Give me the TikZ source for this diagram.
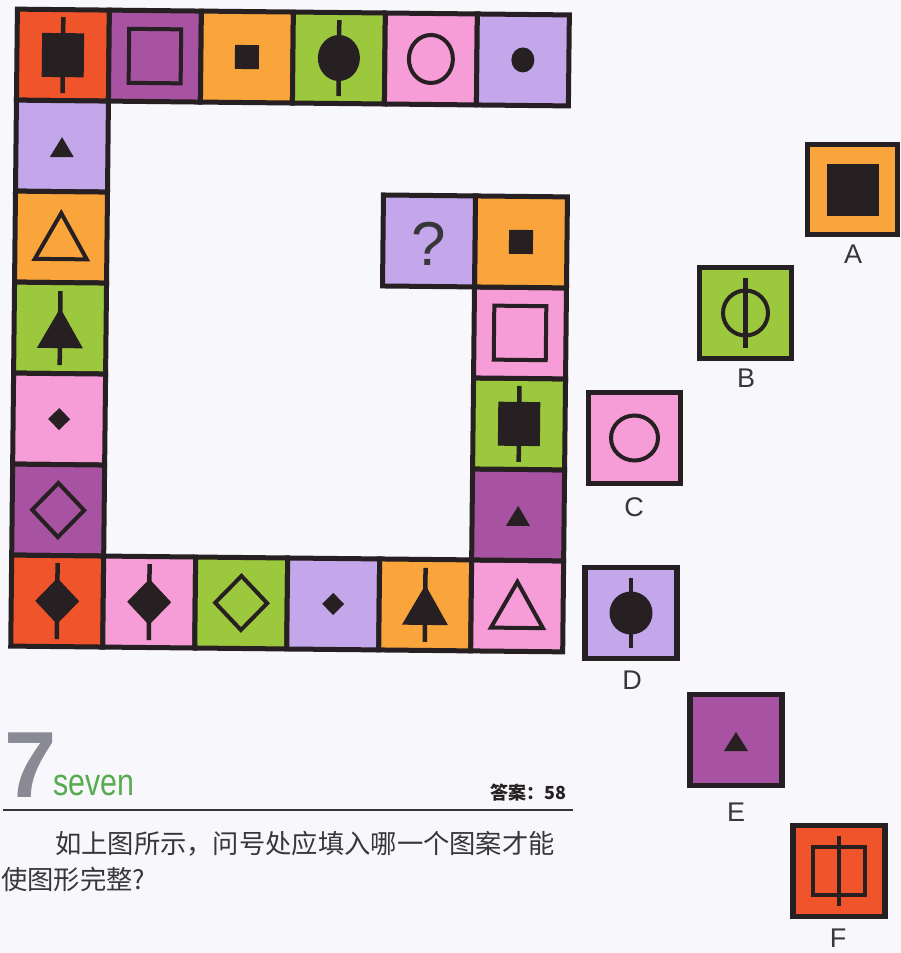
\documentclass[tikz,border=0pt]{standalone}
\usepackage{fontspec}
\setmainfont{Liberation Sans}
\newfontfamily\cjk{Noto Sans CJK SC}
\usepackage{xcolor}
\usepackage{tikz}
\definecolor{ink}{RGB}{38,32,34}
\definecolor{paper}{RGB}{248,248,252}
\definecolor{tred}{RGB}{240,84,42}
\definecolor{tpurple}{RGB}{168,82,162}
\definecolor{torange}{RGB}{250,164,60}
\definecolor{tgreen}{RGB}{156,200,62}
\definecolor{tpink}{RGB}{246,156,214}
\definecolor{tlav}{RGB}{196,166,234}
\definecolor{numgray}{RGB}{138,138,148}
\definecolor{wordgreen}{RGB}{88,172,80}
\definecolor{body}{RGB}{55,55,58}

\begin{document}
\begin{tikzpicture}[x=1pt, y=-1pt,
		tilebox/.style={draw=ink, line width=5pt},
		blob/.style={fill=ink},
		ring/.style={draw=ink, line width=4pt},
		stem/.style={draw=ink, line width=4.5pt},
		choice/.style={font=\fontsize{27}{30}\selectfont, text=body, inner sep=0pt}]
				\fill[paper] (0,0) rectangle (901,953);
				\useasboundingbox (0,0) rectangle (901,953);
				\begin{scope}[rotate around={-0.6:(290,335)}]
				% top row
				\filldraw[tilebox, fill=tred, shift={(60,57.5)}] (-46,-45.5) rectangle (46,45.5);
				\fill[blob, shift={(60,57.5)}] (-21,-22) rectangle (21,22);
				\draw[stem, shift={(60,57.5)}] (0,-38) -- (0,38);
				\filldraw[tilebox, fill=tpurple, shift={(152,57.5)}] (-46,-45.5) rectangle (46,45.5);
				\draw[ring, shift={(152,57.5)}] (-26,-27) rectangle (26,27);
				\filldraw[tilebox, fill=torange, shift={(244,57.5)}] (-46,-45.5) rectangle (46,45.5);
				\fill[blob, shift={(244,57.5)}] (-12,-12) rectangle (12,12);
				\filldraw[tilebox, fill=tgreen, shift={(336,57.5)}] (-46,-45.5) rectangle (46,45.5);
				\fill[blob, shift={(336,57.5)}] (0,0) ellipse (21 and 23);
				\draw[stem, shift={(336,57.5)}] (0,-38) -- (0,38);
				\filldraw[tilebox, fill=tpink, shift={(428,57.5)}] (-46,-45.5) rectangle (46,45.5);
				\draw[ring, shift={(428,57.5)}] (0,0) ellipse (22 and 24);
				\filldraw[tilebox, fill=tlav, shift={(520,57.5)}] (-46,-45.5) rectangle (46,45.5);
				\fill[blob, shift={(520,57.5)}] (0,0) ellipse (11.5 and 12.5);
				% left column
				\filldraw[tilebox, fill=tlav, shift={(60,148.5)}] (-46,-45.5) rectangle (46,45.5);
				\fill[blob, shift={(60,148.5)}] (-12,11) -- (0,-9) -- (12,11) -- cycle;
				\filldraw[tilebox, fill=torange, shift={(60,239.5)}] (-46,-45.5) rectangle (46,45.5);
				\draw[ring, shift={(60,239.5)}] (-26,22) -- (0,-24) -- (26,22) -- cycle;
				\filldraw[tilebox, fill=tgreen, shift={(60,330.5)}] (-46,-45.5) rectangle (46,45.5);
				\fill[blob, shift={(60,330.5)}] (-23,20) -- (0,-20) -- (23,20) -- cycle;
				\draw[stem, shift={(60,330.5)}] (0,-37) -- (0,37);
				\filldraw[tilebox, fill=tpink, shift={(60,421.5)}] (-46,-45.5) rectangle (46,45.5);
				\fill[blob, shift={(60,421.5)}] (-11,0) -- (0,-11) -- (11,0) -- (0,11) -- cycle;
				\filldraw[tilebox, fill=tpurple, shift={(60,512.5)}] (-46,-45.5) rectangle (46,45.5);
				\draw[ring, shift={(60,512.5)}] (-26,0) -- (0,-27) -- (26,0) -- (0,27) -- cycle;
				% bottom row
				\filldraw[tilebox, fill=tred, shift={(60,603.5)}] (-46,-45.5) rectangle (46,45.5);
				\fill[blob, shift={(60,603.5)}] (-22,0) -- (0,-23) -- (22,0) -- (0,23) -- cycle;
				\draw[stem, shift={(60,603.5)}] (0,-38) -- (0,38);
				\filldraw[tilebox, fill=tpink, shift={(152,603.5)}] (-46,-45.5) rectangle (46,45.5);
				\fill[blob, shift={(152,603.5)}] (-22,0) -- (0,-23) -- (22,0) -- (0,23) -- cycle;
				\draw[stem, shift={(152,603.5)}] (0,-38) -- (0,38);
				\filldraw[tilebox, fill=tgreen, shift={(244,603.5)}] (-46,-45.5) rectangle (46,45.5);
				\draw[ring, shift={(244,603.5)}] (-26,0) -- (0,-27) -- (26,0) -- (0,27) -- cycle;
				\filldraw[tilebox, fill=tlav, shift={(336,603.5)}] (-46,-45.5) rectangle (46,45.5);
				\fill[blob, shift={(336,603.5)}] (-11,0) -- (0,-11) -- (11,0) -- (0,11) -- cycle;
				\filldraw[tilebox, fill=torange, shift={(428,603.5)}] (-46,-45.5) rectangle (46,45.5);
				\fill[blob, shift={(428,603.5)}] (-23,20) -- (0,-20) -- (23,20) -- cycle;
				\draw[stem, shift={(428,603.5)}] (0,-37) -- (0,37);
				\filldraw[tilebox, fill=tpink, shift={(520,603.5)}] (-46,-45.5) rectangle (46,45.5);
				\draw[ring, shift={(520,603.5)}] (-26,22) -- (0,-24) -- (26,22) -- cycle;
				% right column, bottom to top
				\filldraw[tilebox, fill=tpurple, shift={(520,512.5)}] (-46,-45.5) rectangle (46,45.5);
				\fill[blob, shift={(520,512.5)}] (-12,11) -- (0,-9) -- (12,11) -- cycle;
				\filldraw[tilebox, fill=tgreen, shift={(520,421.5)}] (-46,-45.5) rectangle (46,45.5);
				\fill[blob, shift={(520,421.5)}] (-21,-22) rectangle (21,22);
				\draw[stem, shift={(520,421.5)}] (0,-38) -- (0,38);
				\filldraw[tilebox, fill=tpink, shift={(520,330.5)}] (-46,-45.5) rectangle (46,45.5);
				\draw[ring, shift={(520,330.5)}] (-26,-27) rectangle (26,27);
				\filldraw[tilebox, fill=torange, shift={(520,239.5)}] (-46,-45.5) rectangle (46,45.5);
				\fill[blob, shift={(520,239.5)}] (-12,-12) rectangle (12,12);
				\filldraw[tilebox, fill=tlav, shift={(428,239.5)}] (-46,-45.5) rectangle (46,45.5);
				\node[text=body, font=\fontsize{62}{62}\selectfont, inner sep=0pt] (ask) at (428,242) {?};
				\end{scope}
				% choices A to F
				\filldraw[tilebox, line width=5.5pt, fill=torange, shift={(852.5,189.5)}] (-45,-45) rectangle (45,45);
				\fill[blob, shift={(852.5,189.5)}] (-26,-26) rectangle (26,26);
				\node[choice] (labA) at (853,254) {A};
				\filldraw[tilebox, line width=5.5pt, fill=tgreen, shift={(745.5,313)}] (-46,-45.5) rectangle (46,45.5);
				\draw[ring, shift={(745.5,313)}] (0,0) circle (22.5);
				\draw[stem, shift={(745.5,313)}] (0,-35) -- (0,35);
				\node[choice] (labB) at (746,378) {B};
				\filldraw[tilebox, line width=5.5pt, fill=tpink, shift={(634.5,438)}] (-46,-45.5) rectangle (46,45.5);
				\draw[ring, shift={(634.5,438)}] (0,0) ellipse (23.5 and 22.5);
				\node[choice] (labC) at (634,507) {C};
				\filldraw[tilebox, line width=5.5pt, fill=tlav, shift={(631,613)}] (-46,-45.5) rectangle (46,45.5);
				\fill[blob, shift={(631,613)}] (0,0) circle (21.5);
				\draw[stem, shift={(631,613)}] (0,-35) -- (0,35);
				\node[choice] (labD) at (632,680) {D};
				\filldraw[tilebox, line width=5.5pt, fill=tpurple, shift={(736,740)}] (-46,-45.5) rectangle (46,45.5);
				\fill[blob, shift={(736,740)}] (-12,11) -- (0,-8) -- (12,11) -- cycle;
				\node[choice] (labE) at (736,812) {E};
				\filldraw[tilebox, line width=5.5pt, fill=tred, shift={(839,871)}] (-46,-45.5) rectangle (46,45.5);
				\draw[ring, shift={(839,871)}] (-26,-24) rectangle (26,24);
				\draw[stem, shift={(839,871)}] (0,-35) -- (0,35);
				\node[choice] (labF) at (838,938) {F};
				% caption
				\node[anchor=base west, inner sep=0pt, text=numgray, font=\bfseries\fontsize{94}{94}\selectfont] (num) at (4,797) {7};
				\node[anchor=base west, inner sep=0pt, text=wordgreen, xscale=0.8, font=\fontsize{38}{38}\selectfont] (word) at (53,795) {seven};
				\node[anchor=base east, inner sep=0pt, text=ink, font=\cjk\bfseries\fontsize{18}{20}\selectfont] (ans) at (567,799) {答案：58};
				\coordinate (ruleL) at (3,810);
				\coordinate (ruleR) at (573,810);
				\draw[body, line width=1.6pt] (ruleL) -- (ruleR);
				\node[anchor=west, inner sep=0pt, text=body, font=\cjk\fontsize{26.3}{30}\selectfont] (q1) at (55,844) {如上图所示，问号处应填入哪一个图案才能};
				\node[anchor=west, inner sep=0pt, text=body, font=\cjk\fontsize{26.3}{30}\selectfont] (q2) at (1,879) {使图形完整?};
			\end{tikzpicture}
\end{document}
